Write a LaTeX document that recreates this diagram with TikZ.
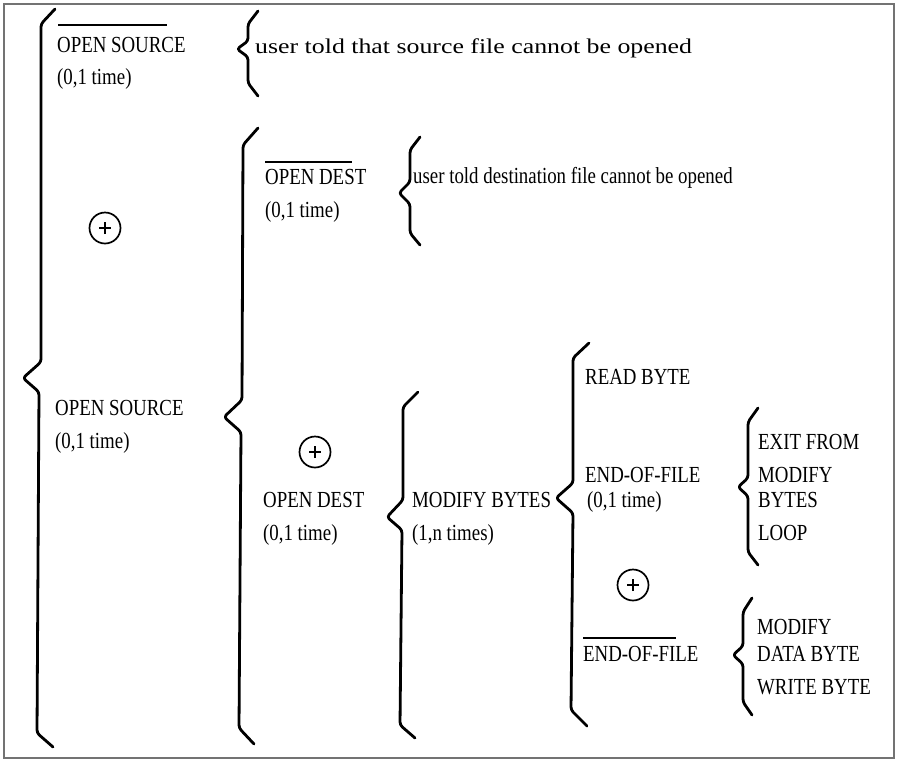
\documentclass[tikz,border=0pt]{standalone}
\usepackage{fontspec}
\setmainfont{Liberation Serif}
\newfontfamily\lblfont{Liberation Serif}
\begin{document}
\begin{tikzpicture}[x=1pt,y=-1pt,
  brace/.style={line width=2.8pt, line join=round, line cap=round, rounded corners=3pt},
  lbl/.style={anchor=west, inner sep=0pt, xscale=0.82, font=\lblfont\fontsize{23}{25}\selectfont},
  bar/.style={line width=2.4pt},
  orsign/.style={circle, draw, line width=1.7pt, minimum size=31pt, inner sep=0pt},
  plusarm/.style={line width=1.4pt},
]
\useasboundingbox (0,0) rectangle (899,761);
\draw[line width=1.6pt, black!55] (4,4) rectangle (894,758);

% labels
\node[lbl] (src1)   at (57,45)  {OPEN SOURCE};
\node[lbl] (src1n)  at (57,79)  {(0,1 time)};
\node[lbl, xscale=1.5, font=\lblfont\fontsize{21}{23}\selectfont] (srcmsg) at (255,48) {user told that source file cannot be opened};
\node[lbl] (src2)   at (55,408) {OPEN SOURCE};
\node[lbl] (src2n)  at (55,443) {(0,1 time)};
\node[lbl] (dst1)   at (265,177) {OPEN DEST};
\node[lbl] (dst1n)  at (265,212) {(0,1 time)};
\node[lbl] (dstmsg) at (413,178) {user told destination file cannot be opened};
\node[lbl] (dst2)   at (263,500) {OPEN DEST};
\node[lbl] (dst2n)  at (263,535) {(0,1 time)};
\node[lbl] (mod)    at (412,500) {MODIFY BYTES};
\node[lbl] (modn)   at (412,535) {(1,n times)};
\node[lbl] (rd)     at (585,377) {READ BYTE};
\node[lbl] (eof)    at (585,475) {END-OF-FILE};
\node[lbl] (eofn)   at (587,502) {(0,1 time)};
\node[lbl] (neof)   at (583,654) {END-OF-FILE};
\node[lbl] (ex1)    at (758,442) {EXIT FROM};
\node[lbl] (ex2)    at (758,475) {MODIFY};
\node[lbl] (ex3)    at (758,500) {BYTES};
\node[lbl] (ex4)    at (758,533) {LOOP};
\node[lbl] (wr1)    at (757,627) {MODIFY};
\node[lbl] (wr2)    at (757,654) {DATA BYTE};
\node[lbl] (wr3)    at (757,687) {WRITE BYTE};

% negation bars
\draw[bar] (58,25) -- (167,25);
\draw[bar] (265,162) -- (352,162);
\draw[bar] (583,638) -- (676,638);

% selection (or) signs
\foreach \n/\p in {or1/{(105,228)}, or2/{(315,452)}, or3/{(633,585)}}{
  \node[orsign] (\n) at \p {};
  \draw[plusarm] ([xshift=-6pt]\n.center) -- ([xshift=6pt]\n.center);
  \draw[plusarm] ([yshift=-6pt]\n.center) -- ([yshift=6pt]\n.center);
}

% braces
\draw[brace] (55,9) -- (41,24) -- (41,362) -- (23,378) -- (39,392) -- (37,733) -- (53,747);
\draw[brace] (258,11) -- (248,24) -- (248,41) -- (237,49) -- (248,57) -- (248,83) -- (258,96);
\draw[brace] (258,128) -- (243,145) -- (242,400) -- (224,417) -- (241,432) -- (239,728) -- (254,744);
\draw[brace] (420,137) -- (410,150) -- (410,182) -- (399,193) -- (410,204) -- (410,233) -- (420,245);
\draw[brace] (418,392) -- (403,407) -- (403,500) -- (387,517) -- (402,530) -- (400,725) -- (415,738);
\draw[brace] (589,343) -- (573,358) -- (573,483) -- (556,498) -- (573,513) -- (571,710) -- (587,726);
\draw[brace] (758,408) -- (748,422) -- (748,478) -- (738,487) -- (748,496) -- (748,552) -- (758,565);
\draw[brace] (752,598) -- (743,612) -- (743,646) -- (733,655) -- (743,664) -- (743,702) -- (752,715);
\end{tikzpicture}
\end{document}
